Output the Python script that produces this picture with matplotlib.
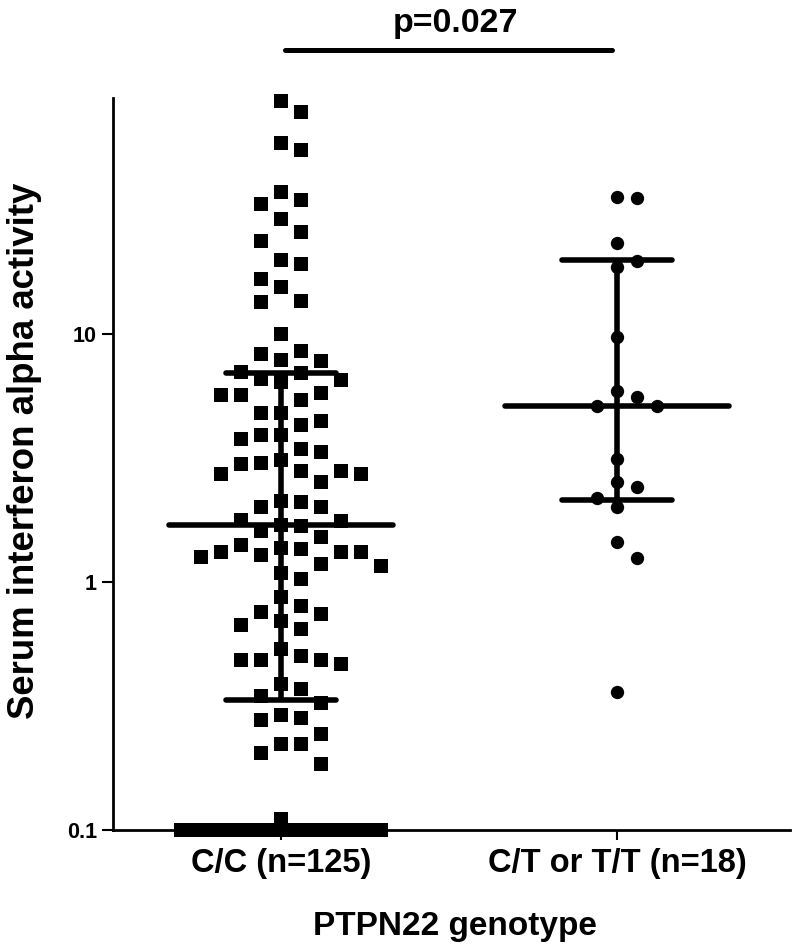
import numpy as np
import matplotlib
matplotlib.use("Agg")
import matplotlib.pyplot as plt
from matplotlib.transforms import blended_transform_factory

plt.rcParams['font.family'] = ['Liberation Sans', 'DejaVu Sans']
plt.rcParams['font.weight'] = 'bold'

# ---------------- data ----------------
categories = ["C/C (n=125)", "C/T or T/T (n=18)"]

# serum IFN-alpha activity, C/C group (0 = undetectable, shown on the axis floor)
cc_values = [
    87.8, 79.3, 59.5, 55.7, 37.7, 35.0, 33.7, 29.1, 26.0, 23.9, 19.9, 19.2,
    16.8, 15.6, 13.7, 13.5, 10.0, 8.54, 8.31, 7.86, 7.78, 7.03, 6.96, 6.59,
    6.53, 6.40, 5.78, 5.68, 5.68, 5.42, 4.80, 4.80, 4.46, 4.30, 3.91, 3.91,
    3.77, 3.44, 3.34, 3.10, 3.02, 2.99, 2.80, 2.80, 2.73, 2.73, 2.53, 2.12,
    2.10, 2.01, 2.01, 1.79, 1.76, 1.70, 1.68, 1.61, 1.52, 1.41, 1.38, 1.36,
    1.33, 1.33, 1.32, 1.29, 1.26, 1.18, 1.16, 1.09, 1.03, 0.870, 0.800, 0.757,
    0.743, 0.696, 0.671, 0.646, 0.537, 0.503, 0.485, 0.485, 0.485, 0.467,
    0.388, 0.370, 0.347, 0.325, 0.291, 0.283, 0.278, 0.244, 0.222, 0.222,
    0.204, 0.185, 0.111,
    0, 0, 0, 0, 0, 0, 0, 0, 0, 0, 0, 0, 0, 0, 0,
    0, 0, 0, 0, 0, 0, 0, 0, 0, 0, 0, 0, 0, 0, 0,
]

# C/T or T/T group
ct_values = [36.0, 35.4, 23.3, 19.7, 18.8, 9.72, 5.89, 5.57, 5.13, 5.13,
             3.13, 2.53, 2.42, 2.18, 2.01, 1.45, 1.25, 0.360]

# median and interquartile range, per group
medians = [1.70, 5.13]
q1s = [0.334, 2.14]
q3s = [6.96, 19.9]

p_text = "p=0.027"
y_ticks = [0.1, 1, 10]
y_ticklabels = ["0.1", "1", "10"]

# ---------------- figure ----------------
W, H, DPI = 793, 951, 100
fig = plt.figure(figsize=(W / DPI, H / DPI), dpi=DPI)
ax_l, ax_r, ax_t, ax_b = 113, 790, 98, 830
ax = fig.add_axes([ax_l / W, 1 - ax_b / H, (ax_r - ax_l) / W, (ax_b - ax_t) / H])

ax.set_yscale('log')
ymin, ymax = 0.1, 90.0
ax.set_ylim(ymin, ymax)
ax.set_xlim(0.5, 2.515)

# pixel helpers
x_per_px = (2.515 - 0.5) / (ax_r - ax_l)
col_step = 20 * x_per_px
MAX_SLOTS = 5


def swarm(values, center, min_gap=22.0):
    """Greedy column layout; undetectable (0) values spread along the axis floor."""
    vals = np.array(values, dtype=float)
    pos = vals > 0
    xs = np.zeros(len(vals))
    ys = np.where(pos, vals, ymin)
    ypx = ax.transData.transform(np.column_stack([np.full(len(vals), center), ys]))[:, 1]
    slots = [0] + [s for k in range(1, MAX_SLOTS + 1) for s in (k, -k)]
    placed = {s: [] for s in slots}
    idx = [i for i in np.argsort(-vals, kind='stable') if pos[i]]
    for i in idx:
        y = ypx[i]
        gaps = {s: min([abs(y - yy) for yy in placed[s]] + [1e9]) for s in slots}
        chosen = next((s for s in slots if gaps[s] >= min_gap), None)
        if chosen is None:
            chosen = max(slots, key=lambda s: gaps[s])
        placed[chosen].append(y)
        xs[i] = center + chosen * col_step
    zero_idx = np.where(~pos)[0]
    if len(zero_idx):
        spread = np.linspace(-MAX_SLOTS, MAX_SLOTS, len(zero_idx))
        xs[zero_idx] = center + spread * col_step
    return xs, ys


x1, y1 = swarm(cc_values, 1)
x2, y2 = swarm(ct_values, 2)

ax.scatter(x1, y1, marker='s', s=100, color='black', linewidths=0, clip_on=False, zorder=3)
ax.scatter(x2, y2, marker='o', s=92, color='black', linewidths=0, clip_on=False, zorder=3)

# median + IQR bars
med_half = 112 * x_per_px
q_half = 55 * x_per_px
lw = 4.0
for i, (m, lo, hi) in enumerate(zip(medians, q1s, q3s)):
    c = i + 1
    ax.plot([c - med_half, c + med_half], [m, m], color='black', lw=lw,
            solid_capstyle='round', zorder=4)
    for q in (lo, hi):
        ax.plot([c - q_half, c + q_half], [q, q], color='black', lw=lw,
                solid_capstyle='round', zorder=4)
    ax.plot([c, c], [lo, hi], color='black', lw=lw, solid_capstyle='butt', zorder=4)

# significance bar
trans = blended_transform_factory(ax.transData, ax.transAxes)
bar_y = (ax_b - 50) / (ax_b - ax_t)
ax.plot([1.012, 1.985], [bar_y, bar_y], transform=trans, color='black', lw=3.6,
        solid_capstyle='round', clip_on=False)
txt_y = (ax_b - 32) / (ax_b - ax_t)
ax.text(1.52, txt_y, p_text, transform=trans, ha='center', va='baseline',
        fontsize=24.5, fontweight='bold')

# axes styling
for side in ('top', 'right'):
    ax.spines[side].set_visible(False)
ax.spines['left'].set_linewidth(2)
ax.spines['bottom'].set_linewidth(2)

ax.set_yticks(y_ticks)
ax.set_yticklabels(y_ticklabels, fontsize=15.5, fontweight='bold')
ax.yaxis.set_minor_locator(matplotlib.ticker.NullLocator())
ax.tick_params(axis='y', direction='out', length=8, width=1.5, pad=3.5)

ax.set_xticks([1, 2])
ax.set_xticklabels(categories, fontsize=23.5, fontweight='bold')
ax.tick_params(axis='x', direction='out', length=7, width=1.5, pad=6)

fig.text(25 / W, 1 - 451 / H, "Serum interferon alpha activity", rotation=90,
         ha='center', va='center', fontsize=26.4, fontweight='bold')
fig.text(455 / W, 1 - 935 / H, "PTPN22 genotype", ha='center', va='baseline',
         fontsize=24, fontweight='bold')

fig.savefig("out.png", dpi=DPI)
